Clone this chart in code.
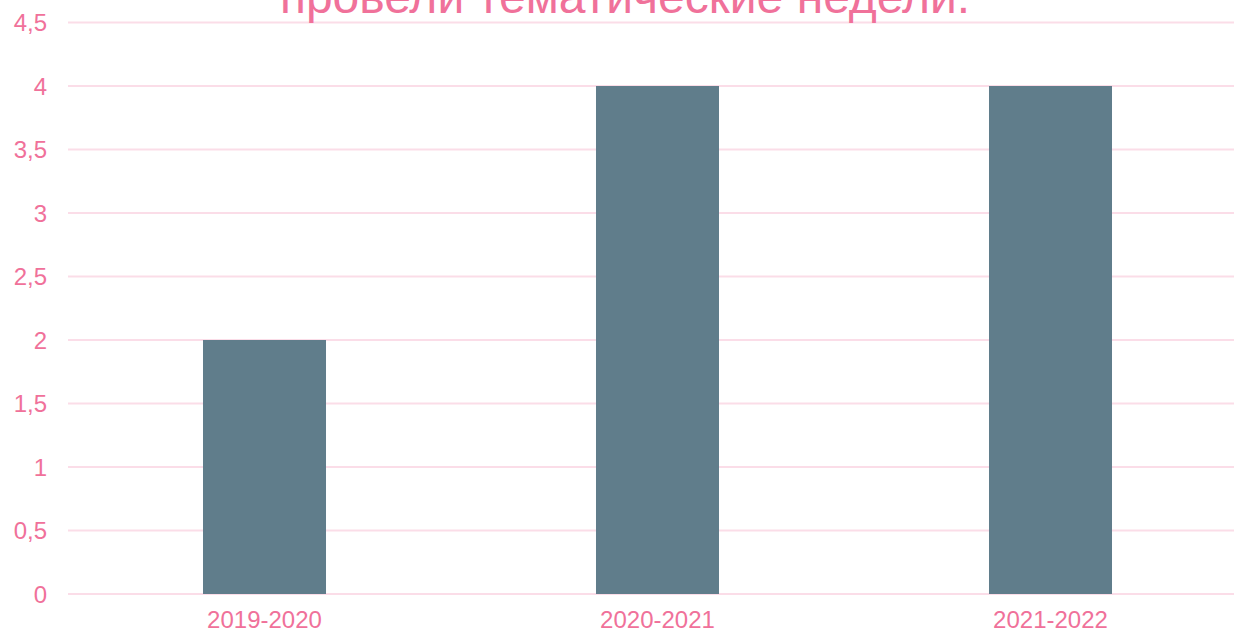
<!DOCTYPE html>
<html>
<head>
<meta charset="utf-8">
<script src="https://cdn.jsdelivr.net/npm/d3@7"></script>
<style>
  body { margin: 0; background: #fff; }
  svg { display: block; font-family: 'Liberation Sans', Arial, sans-serif; }
</style>
</head>
<body>
<div id="chart"></div>
<script>
// data
var years = ['2019-2020', '2020-2021', '2021-2022']
var weeks = [2, 4, 4]
var yTicks = [0, 0.5, 1, 1.5, 2, 2.5, 3, 3.5, 4, 4.5]
var title = 'провели тематические недели.'

var width = 1234
var height = 633
var margin = { top: 22.5, right: -13, bottom: 39, left: 68 }

var pink = '#f0719a'
var gridPink = '#fbdde8'
var barColor = '#607d8b'

var svg = d3
  .select('#chart')
  .append('svg')
  .attr('width', width)
  .attr('height', height)

var x = d3
  .scaleBand()
  .domain(years)
  .range([margin.left, width - margin.right])
  .paddingInner(0.687)
  .paddingOuter(0.3435)

var y = d3
  .scaleLinear()
  .domain([0, 4.5])
  .range([height - margin.bottom, margin.top])

var fmt = d => String(d).replace('.', ',')

// gridlines
svg
  .selectAll('.grid')
  .data(yTicks)
  .enter()
  .append('line')
  .attr('class', 'grid')
  .attr('x1', margin.left)
  .attr('x2', width)
  .attr('y1', d => y(d))
  .attr('y2', d => y(d))
  .attr('stroke', gridPink)
  .attr('stroke-width', 2)

// y labels
svg
  .selectAll('.y-label')
  .data(yTicks)
  .enter()
  .append('text')
  .attr('class', 'y-label')
  .attr('x', 47)
  .attr('y', d => y(d))
  .attr('dy', '0.36em')
  .attr('text-anchor', 'end')
  .attr('font-size', 24)
  .attr('fill', pink)
  .text(fmt)

// bars
svg
  .selectAll('.bar')
  .data(years)
  .enter()
  .append('rect')
  .attr('class', 'bar')
  .attr('x', d => x(d))
  .attr('width', x.bandwidth())
  .attr('y', (d, i) => y(weeks[i]))
  .attr('height', (d, i) => y(0) - y(weeks[i]))
  .attr('fill', barColor)

// x labels
svg
  .selectAll('.x-label')
  .data(years)
  .enter()
  .append('text')
  .attr('class', 'x-label')
  .attr('x', d => x(d) + x.bandwidth() / 2)
  .attr('y', 628)
  .attr('text-anchor', 'middle')
  .attr('font-size', 24)
  .attr('fill', pink)
  .text(d => d)

// title, cut off at the top like in the original slide
svg
  .append('text')
  .attr('x', 625)
  .attr('y', 13)
  .attr('text-anchor', 'middle')
  .attr('font-size', 48)
  .attr('fill', pink)
  .text(title)
</script>
</body>
</html>
